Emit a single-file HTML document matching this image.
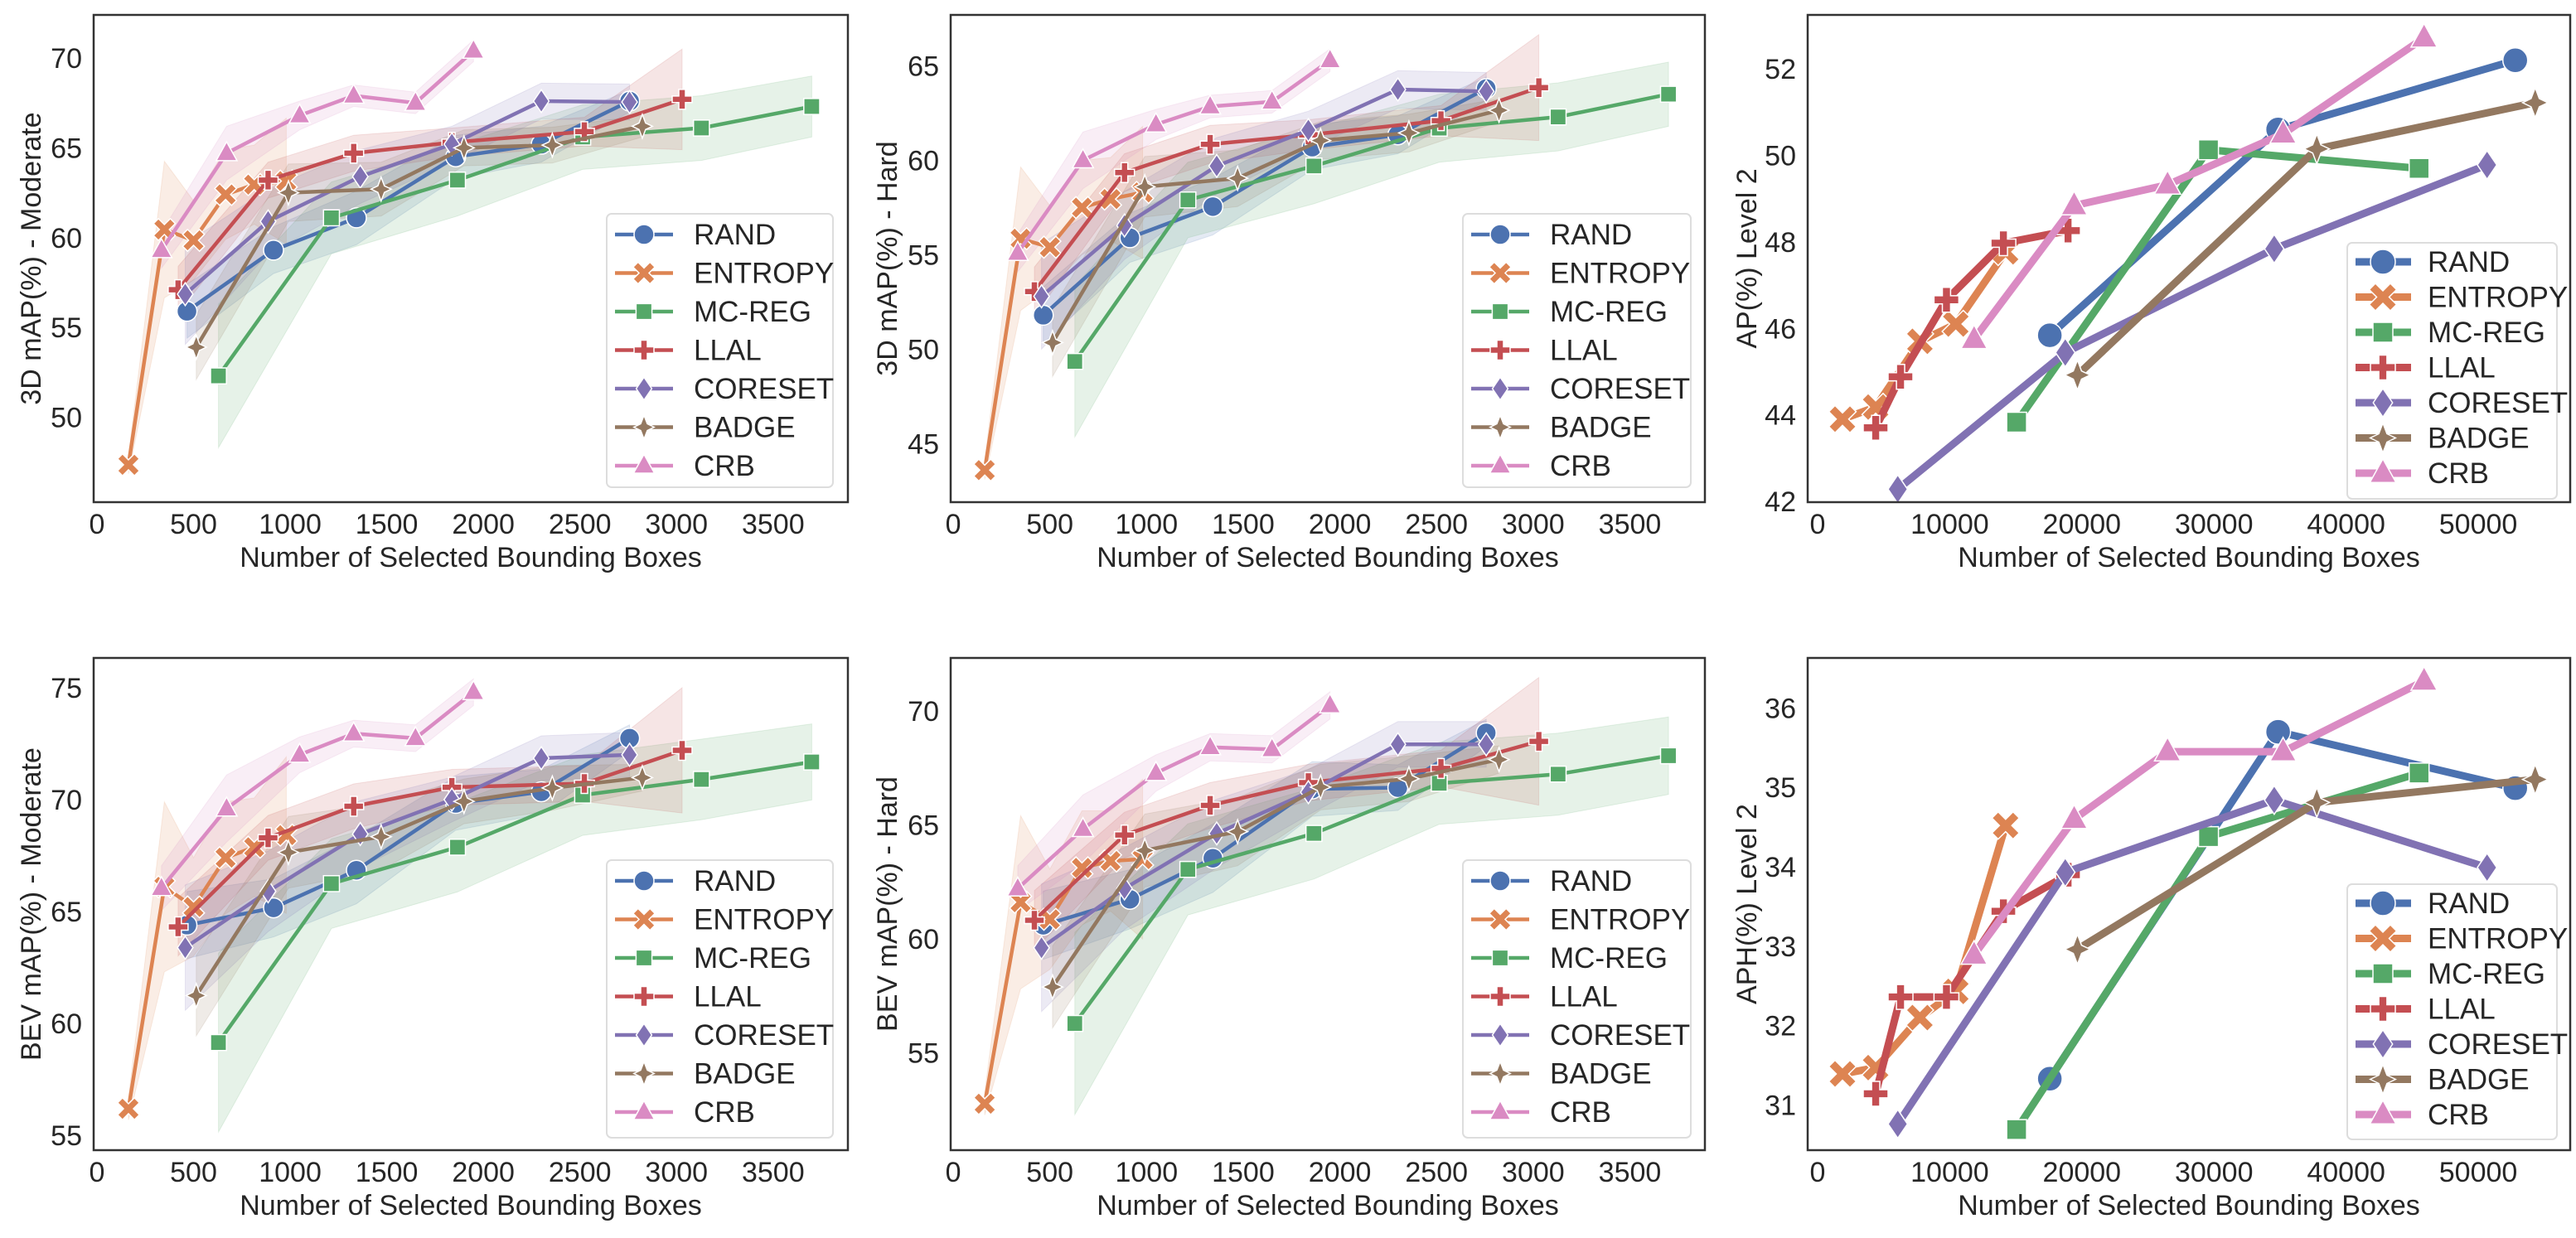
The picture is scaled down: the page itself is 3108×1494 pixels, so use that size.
<!DOCTYPE html>
<html><head><meta charset="utf-8">
<style>
html,body{margin:0;padding:0;background:#fff;}
svg{display:block;font-family:"Liberation Sans",Arial,sans-serif;}
</style></head>
<body>
<svg id="fig" width="3108" height="1494" viewBox="0 0 3108 1494" xmlns="http://www.w3.org/2000/svg"></svg>
<script>
// ---- shared categories ----
const methods = ["RAND","ENTROPY","MC-REG","LLAL","CORESET","BADGE","CRB"];
// KITTI x (number of selected boxes) per method
const kx_RAND    = [466, 914, 1343, 1857, 2300, 2757];
const kx_ENTROPY = [163, 349, 500, 666, 814, 980];
const kx_MCREG   = [629, 1214, 1866, 2514, 3129, 3700];
const kx_LLAL    = [420, 886, 1329, 1837, 2523, 3029];
const kx_CORESET = [457, 886, 1363, 1837, 2300, 2757];
const kx_BADGE   = [514, 991, 1471, 1900, 2357, 2823];
const kx_CRB     = [334, 671, 1049, 1329, 1649, 1949];
// band half-widths (std) per method
const sd_RAND    = [1.5,1.3,1.5,1.2,1.0,0.6];
const sd_ENTROPY = [0.5,3.8,2.2,2.5,2.2,3.5];
const sd_MCREG   = [4.0,2.0,2.0,1.8,1.8,1.7];
const sd_LLAL    = [1.3,1.0,1.0,0.8,0.8,2.8];
const sd_CORESET = [2.8,1.8,1.5,1.0,1.0,1.0];
const sd_BADGE   = [1.8,1.6,1.5,1.0,1.0,0.6];
const sd_CRB     = [1.0,1.5,0.8,0.6,0.6,0.6];
// Panel A: 3D mAP Moderate
const a_RAND    = [55.9,59.3,61.1,64.5,65.2,67.6];
const a_ENTROPY = [47.35,60.45,59.85,62.4,62.95,63.15];
const a_MCREG   = [52.3,61.1,63.2,65.6,66.1,67.3];
const a_LLAL    = [57.1,63.2,64.7,65.3,65.9,67.7];
const a_CORESET = [56.85,60.9,63.4,65.2,67.6,67.55];
const a_BADGE   = [53.9,62.5,62.7,65.0,65.15,66.2];
const a_CRB     = [59.3,64.7,66.8,67.9,67.5,70.4];
// Panel B: 3D mAP Hard
const b_RAND    = [51.8,55.9,57.55,60.7,61.35,63.8];
const b_ENTROPY = [43.6,55.85,55.4,57.5,57.95,58.3];
const b_MCREG   = [49.35,57.9,59.7,61.7,62.3,63.5];
const b_LLAL    = [53.05,59.35,60.85,61.35,62.1,63.85];
const b_CORESET = [52.8,56.55,59.7,61.6,63.75,63.65];
const b_BADGE   = [50.35,58.6,59.05,61.05,61.45,62.65];
const b_CRB     = [55.1,60.0,61.9,62.85,63.1,65.3];
// Panel D: BEV mAP Moderate
const d_RAND    = [64.39,65.16,66.84,69.83,70.35,72.74];
const d_ENTROPY = [56.18,66.1,65.2,67.4,67.87,68.41];
const d_MCREG   = [59.14,66.24,67.87,70.2,70.9,71.68];
const d_LLAL    = [64.31,68.29,69.7,70.55,70.72,72.2];
const d_CORESET = [63.38,65.9,68.46,70.0,71.85,72.0];
const d_BADGE   = [61.24,67.64,68.34,69.92,70.52,70.98];
const d_CRB     = [66.04,69.6,72.0,72.95,72.74,74.8];
// Panel E: BEV mAP Hard
const e_RAND    = [60.6,61.74,63.54,66.58,66.64,69.04];
const e_ENTROPY = [52.77,61.61,60.86,63.12,63.42,63.5];
const e_MCREG   = [56.29,63.05,64.63,66.83,67.23,68.04];
const e_LLAL    = [60.82,64.56,65.86,66.86,67.48,68.67];
const e_CORESET = [59.61,62.21,64.63,66.44,68.54,68.54];
const e_BADGE   = [57.89,63.88,64.71,66.66,67.03,67.87];
const e_CRB     = [62.21,64.82,67.28,68.41,68.32,70.25];
// Waymo x per method
const wx_RAND    = [17573, 34854, 52803];
const wx_ENTROPY = [1883, 4393, 7740, 10460, 14226];
const wx_MCREG   = [15063, 29582, 45523];
const wx_LLAL    = [4393, 6276, 9749, 14059, 18954];
const wx_CORESET = [6067, 18745, 34561, 50669];
const wx_BADGE   = [19665, 37782, 54310];
const wx_CRB     = [11841, 19414, 26485, 35230, 45900];
// Panel C: AP Level 2
const c_RAND    = [45.84, 50.6, 52.2];
const c_ENTROPY = [43.9, 44.18, 45.7, 46.1, 47.77];
const c_MCREG   = [43.83, 50.13, 49.7];
const c_LLAL    = [43.7, 44.88, 46.66, 47.97, 48.26];
const c_CORESET = [42.28, 45.44, 47.84, 49.78];
const c_BADGE   = [44.92, 50.15, 51.22];
const c_CRB     = [45.75, 48.84, 49.32, 50.5, 52.72];
// Panel F: APH Level 2
const f_RAND    = [31.33, 35.7, 34.99];
const f_ENTROPY = [31.39, 31.47, 32.1, 32.43, 34.52];
const f_MCREG   = [30.69, 34.38, 35.18];
const f_LLAL    = [31.14, 32.36, 32.36, 33.44, 33.9];
const f_CORESET = [30.76, 33.93, 34.84, 33.99];
const f_BADGE   = [32.96, 34.81, 35.1];
const f_CRB     = [32.89, 34.6, 35.45, 35.45, 36.34];
// axis tick labels
const kittiXTicks = [0,500,1000,1500,2000,2500,3000,3500];
const waymoXTicks = [0,10000,20000,30000,40000,50000];
const aYTicks = [50,55,60,65,70];
const bYTicks = [45,50,55,60,65];
const cYTicks = [42,44,46,48,50,52];
const dYTicks = [55,60,65,70,75];
const eYTicks = [55,60,65,70];
const fYTicks = [31,32,33,34,35,36];

const colors = ["#4C72B0","#DD8452","#55A868","#C44E52","#8172B3","#937860","#DA8BC3"];
const shapes = ["circle","x","square","plus","diamond","star","tri"];
const KX = [kx_RAND,kx_ENTROPY,kx_MCREG,kx_LLAL,kx_CORESET,kx_BADGE,kx_CRB];
const WX = [wx_RAND,wx_ENTROPY,wx_MCREG,wx_LLAL,wx_CORESET,wx_BADGE,wx_CRB];
const SD = [sd_RAND,sd_ENTROPY,sd_MCREG,sd_LLAL,sd_CORESET,sd_BADGE,sd_CRB];

const panels = [
 {id:"a",x0:113,x1:1023,y0:18,y1:606,xd:[-17,3887],yd:[45.27,72.4],yt:aYTicks,xt:kittiXTicks,lab:"3D mAP(%) - Moderate",labx:37,
  ys:[a_RAND,a_ENTROPY,a_MCREG,a_LLAL,a_CORESET,a_BADGE,a_CRB],xs:KX,thick:false,band:true,leg:[732,258,273,330]},
 {id:"b",x0:1147,x1:2057,y0:18,y1:606,xd:[-13,3888],yd:[41.9,67.7],yt:bYTicks,xt:kittiXTicks,lab:"3D mAP(%) - Hard",labx:1070,
  ys:[b_RAND,b_ENTROPY,b_MCREG,b_LLAL,b_CORESET,b_BADGE,b_CRB],xs:KX,thick:false,band:true,leg:[1765,258,275,330]},
 {id:"c",x0:2181,x1:3101,y0:18,y1:606,xd:[-753,56960],yd:[41.98,53.25],yt:cYTicks,xt:waymoXTicks,lab:"AP(%) Level 2",labx:2107,
  ys:[c_RAND,c_ENTROPY,c_MCREG,c_LLAL,c_CORESET,c_BADGE,c_CRB],xs:WX,thick:true,band:false,leg:[2832,293,253,309]},
 {id:"d",x0:113,x1:1023,y0:794,y1:1388,xd:[-17,3887],yd:[54.33,76.33],yt:dYTicks,xt:kittiXTicks,lab:"BEV mAP(%) - Moderate",labx:37,
  ys:[d_RAND,d_ENTROPY,d_MCREG,d_LLAL,d_CORESET,d_BADGE,d_CRB],xs:KX,thick:false,band:true,leg:[732,1038,273,335]},
 {id:"e",x0:1147,x1:2057,y0:794,y1:1388,xd:[-13,3888],yd:[50.73,72.33],yt:eYTicks,xt:kittiXTicks,lab:"BEV mAP(%) - Hard",labx:1070,
  ys:[e_RAND,e_ENTROPY,e_MCREG,e_LLAL,e_CORESET,e_BADGE,e_CRB],xs:KX,thick:false,band:true,leg:[1765,1038,275,335]},
 {id:"f",x0:2181,x1:3101,y0:794,y1:1388,xd:[-753,56960],yd:[30.43,36.63],yt:fYTicks,xt:waymoXTicks,lab:"APH(%) Level 2",labx:2107,
  ys:[f_RAND,f_ENTROPY,f_MCREG,f_LLAL,f_CORESET,f_BADGE,f_CRB],xs:WX,thick:true,band:false,leg:[2832,1067,253,308]}
];

const NS="http://www.w3.org/2000/svg";
const svg=document.getElementById("fig");
function mk(tag,attrs,parent){const e=document.createElementNS(NS,tag);for(const k in attrs)e.setAttribute(k,attrs[k]);(parent||svg).appendChild(e);return e;}

function markerPath(shape,cx,cy,s){
  let pts;
  if(shape==="x"){const a=s*0.5,b=s*1.1;
    pts=[[0,-a],[b-a,-b],[b,-b+a],[a,0],[b,b-a],[b-a,b],[0,a],[-b+a,b],[-b,b-a],[-a,0],[-b,-b+a],[-b+a,-b]];}
  else if(shape==="square"){const a=s*0.8;pts=[[-a,-a],[a,-a],[a,a],[-a,a]];}
  else if(shape==="plus"){const a=s*0.33,b=s*1.0;pts=[[-a,-b],[a,-b],[a,-a],[b,-a],[b,a],[a,a],[a,b],[-a,b],[-a,a],[-b,a],[-b,-a],[-a,-a]];}
  else if(shape==="diamond"){pts=[[0,-s*1.15],[s*0.78,0],[0,s*1.15],[-s*0.78,0]];}
  else if(shape==="star"){const b=s*1.2,a=s*0.33;pts=[[0,-b],[a,-a],[b*0.85,0],[a,a],[0,b],[-a,a],[-b*0.85,0],[-a,-a]];}
  else {pts=[[0,-s*1.15],[s*1.05,s*0.75],[-s*1.05,s*0.75]];}
  return "M"+pts.map(p=>(cx+p[0]).toFixed(1)+","+(cy+p[1]).toFixed(1)).join("L")+"Z";
}
function drawMarker(g,shape,cx,cy,s,color,name){
  let el;
  if(shape==="circle"){el=mk("circle",{cx:cx,cy:cy,r:s,fill:color,stroke:"#fff","stroke-width":1.5},g);}
  else{el=mk("path",{d:markerPath(shape,cx,cy,s),fill:color,stroke:"#fff","stroke-width":1.5,"stroke-linejoin":"miter"},g);}
  
  
}

panels.forEach(P=>{
  const g=mk("g",{});
  
  
  const sx=v=>P.x0+(v-P.xd[0])/(P.xd[1]-P.xd[0])*(P.x1-P.x0);
  const sy=v=>P.y1-(v-P.yd[0])/(P.yd[1]-P.yd[0])*(P.y1-P.y0);
  if(P.band){
    P.ys.forEach((ys,i)=>{
      const xs=P.xs[i],sd=SD[i];
      const up=xs.map((x,j)=>sx(x).toFixed(1)+","+sy(ys[j]+sd[j]).toFixed(1));
      const lo=xs.map((x,j)=>sx(x).toFixed(1)+","+sy(ys[j]-sd[j]).toFixed(1)).reverse();
      const b=mk("polygon",{points:up.concat(lo).join(" "),fill:colors[i],"fill-opacity":0.15,stroke:colors[i],"stroke-opacity":0.15,"stroke-width":1},g);
      
      
    });
  }
  const lw=P.thick?9:4.5, ms=P.thick?15:12;
  P.ys.forEach((ys,i)=>{
    const xs=P.xs[i];
    const ln=mk("polyline",{points:xs.map((x,j)=>sx(x).toFixed(1)+","+sy(ys[j]).toFixed(1)).join(" "),fill:"none",stroke:colors[i],"stroke-width":lw,"stroke-linejoin":"round","stroke-linecap":"round"},g);
    
    
    xs.forEach((x,j)=>drawMarker(g,shapes[i],sx(x),sy(ys[j]),ms,colors[i],'point-'+methods[i].toLowerCase()));
  });
  const fr=mk("rect",{x:P.x0,y:P.y0,width:P.x1-P.x0,height:P.y1-P.y0,fill:"none",stroke:"#333","stroke-width":2.5},g);
  
  
  P.yt.forEach(v=>{
    const t=mk("text",{x:P.x0-14,y:sy(v)+12,"text-anchor":"end","font-size":34,fill:"#262626"},g);
    t.textContent=v;
    
    
  });
  P.xt.forEach(v=>{
    const t=mk("text",{x:sx(v),y:P.y1+38,"text-anchor":"middle","font-size":34,fill:"#262626"},g);
    t.textContent=v;
    
    
  });
  const xl=mk("text",{x:(P.x0+P.x1)/2,y:P.y1+78,"text-anchor":"middle","font-size":34,fill:"#262626"},g);
  xl.textContent="Number of Selected Bounding Boxes";
  
  
  const cy=(P.y0+P.y1)/2;
  const yl=mk("text",{x:P.labx,y:cy,"text-anchor":"middle","font-size":34,fill:"#262626",transform:"rotate(-90 "+P.labx+" "+cy+")",dy:12},g);
  yl.textContent=P.lab;
  
  
  const [lx,ly,lw2,lh]=P.leg;
  const lg=mk("g",{},g);
  
  
  mk("rect",{x:lx,y:ly,width:lw2,height:lh,rx:6,fill:"#fff","fill-opacity":0.85,stroke:"#ddd","stroke-width":2},lg);
  const step=P.thick?42.5:46.5, first=P.thick?23:25;
  methods.forEach((m,i)=>{
    const yy=ly+first+i*step;
    const e=mk("g",{},lg);
    
    
    mk("line",{x1:lx+10,x2:lx+(P.thick?77:80),y1:yy,y2:yy,stroke:colors[i],"stroke-width":lw},e);
    drawMarker(e,shapes[i],lx+(P.thick?43:45),yy,ms,colors[i],'legend-marker');
    const t=mk("text",{x:lx+(P.thick?97:105),y:yy+12,"font-size":35,fill:"#262626"},e);
    t.textContent=m;
  });
});
</script>
</body></html>
